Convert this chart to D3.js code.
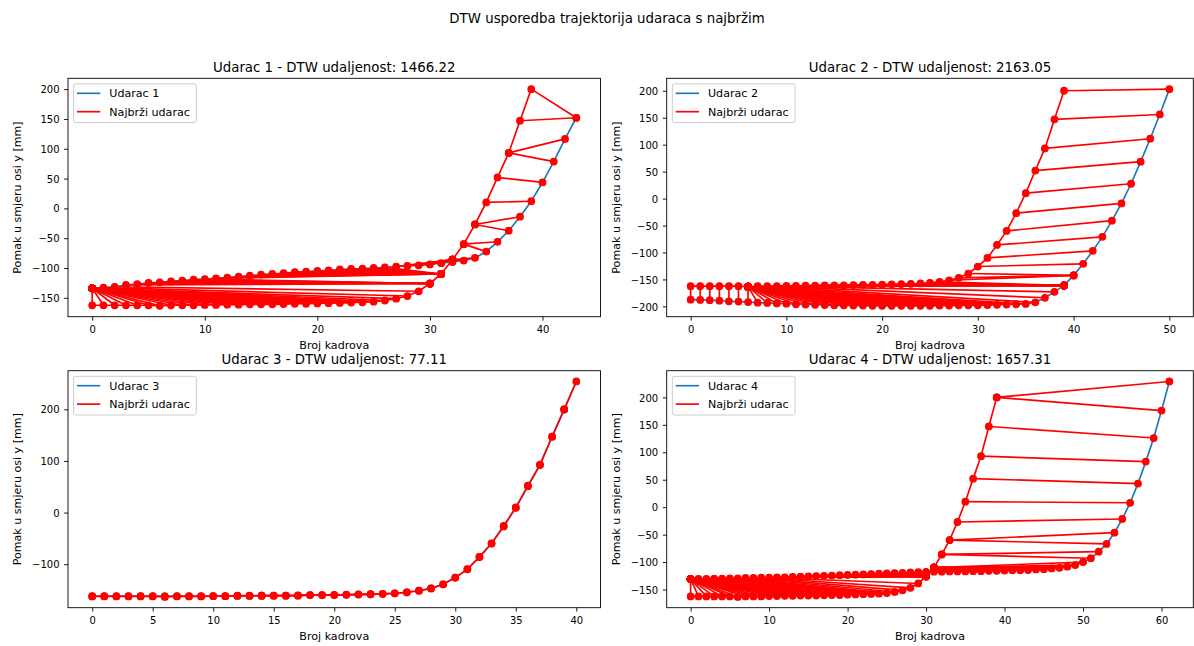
<!DOCTYPE html>
<html><head><meta charset="utf-8">
<script src="https://cdn.jsdelivr.net/npm/d3@7"></script>
<style>
body{margin:0;background:#fff}
svg{display:block}
text{font-family:"DejaVu Sans",sans-serif;fill:#000}
</style>
</head><body>
<svg id="c" width="1194" height="646"></svg>
<script>
// ---- data ----
const najbrziUdarac = [-162.5,-162.5,-162.5,-162.5,-162.5,-162.5,-163.5,-162.5,-162.5,-162.5,
  -162,-162,-161.5,-161.5,-161,-161,-161,-160.5,-160,-160,
  -159.5,-159,-158.5,-158,-157.5,-156.5,-154.5,-151.5,-147,-139,
  -126,-110,-86,-60,-27,10,52,93,147,200];
const udarac1 = [-134,-133,-131.5,-128.5,-127,-125,-124,-122.5,-121,-119.5,
  -118.5,-117.5,-116,-114.5,-113,-111,-110,-108.5,-107,-106,
  -105,-104,-102.5,-101.5,-101,-100,-99,-97.5,-96.5,-95.5,
  -94,-92,-90,-87.5,-83,-72.5,-56,-37.5,-14,12,
  43.5,78.5,116.5,152];
const udarac2 = [-187.5,-188,-188.5,-189.5,-190.5,-191,-192,-193,-193.5,-194.5,
  -195,-196,-196.5,-197,-197.5,-198,-198,-198.5,-198.5,-199,
  -199,-199,-199,-199,-199,-199,-198.5,-198.5,-198,-198,
  -198,-197.5,-197,-196.5,-196,-195.5,-192.5,-184,-173,-161,
  -142.5,-121,-97,-71,-41,-9,27.5,68.5,111,156,203];
const udarac3 = [-162,-162,-162,-162,-162,-162,-162,-162,-162,-162,-162,-162,
  -161,-161,-161,-161,-161,-161,-160,-160,-160,
  -159.5,-159,-158.5,-157.5,-156.5,-154.5,-151.5,-147,-139,
  -126,-109.5,-86,-59.5,-26,9,51,92,147,199.5,254];
const udarac4 = [-131,-130.5,-130.5,-130,-130,-129.5,-129.5,-129,-129,-128.5,
  -128.5,-128,-128,-127,-126.5,-126,-125.5,-125,-124.5,-124,
  -123.5,-123,-122.5,-122,-121,-120.5,-120,-119.5,-119,-118.5,
  -118,-117.5,-117.5,-117,-117,-117,-116.5,-116.5,-116,-116,
  -115.5,-115,-115,-114.5,-113.5,-113,-111.5,-110.5,-108.5,-105.5,
  -100,-93,-81,-67,-46.5,-21.5,8,43,83,126,176,229];
const strokeNames = ["Udarac 1","Udarac 2","Udarac 3","Udarac 4"];
const dtwDistances = ["1466.22","2163.05","77.11","1657.31"];
const xTicks = [[0,10,20,30,40],[0,10,20,30,40,50],[0,5,10,15,20,25,30,35,40],[0,10,20,30,40,50,60]];
const yTicks = [[-150,-100,-50,0,50,100,150,200],[-200,-150,-100,-50,0,50,100,150,200],[-100,0,100,200],[-150,-100,-50,0,50,100,150,200]];
const suptitle = "DTW usporedba trajektorija udaraca s najbržim";
const xLabel = "Broj kadrova";
const yLabel = "Pomak u smjeru osi y [mm]";
const fastestLabel = "Najbrži udarac";

// ---- layout ----
const boxes = [
  {l:68, t:78.3, r:600.5, b:316.7},
  {l:666.7, t:78.3, r:1193.3, b:316.7},
  {l:68, t:370.7, r:600.5, b:607.7},
  {l:666.7, t:370.7, r:1193.3, b:607.7}
];
const series = [udarac1, udarac2, udarac3, udarac4];
const BLUE = "#1f77b4", RED = "#ff0000";
const LW = 1.67, MR = 3.33, MEW = 1.1;

function dtwPath(a, b){
  const n=a.length, m=b.length;
  const D = Array.from({length:n}, ()=>new Float64Array(m).fill(Infinity));
  for(let i=0;i<n;i++) for(let j=0;j<m;j++){
    const c = Math.abs(a[i]-b[j]);
    if(i===0 && j===0){ D[i][j]=c; continue; }
    let best = Infinity;
    if(i>0 && j>0) best = Math.min(best, D[i-1][j-1]);
    if(i>0) best = Math.min(best, D[i-1][j]);
    if(j>0) best = Math.min(best, D[i][j-1]);
    D[i][j] = c + best;
  }
  const path=[[n-1,m-1]];
  let i=n-1, j=m-1;
  while(i>0 || j>0){
    if(i===0){ j--; }
    else if(j===0){ i--; }
    else {
      const d=D[i-1][j-1], u=D[i-1][j], l=D[i][j-1];
      if(d<=u && d<=l){ i--; j--; }
      else if(u<=l){ i--; }
      else { j--; }
    }
    path.push([i,j]);
  }
  return path.reverse();
}

const svg = d3.select("#c");
svg.append("text").attr("x",607).attr("y",23).attr("text-anchor","middle")
  .style("font-size","13.33px").text(suptitle);

series.forEach((s1, k)=>{
  const box = boxes[k];
  const s2 = najbrziUdarac;
  const nmax = Math.max(s1.length, s2.length) - 1;
  const xm = nmax*0.05;
  const all = s1.concat(s2);
  const ymin = d3.min(all), ymax = d3.max(all), ym = (ymax-ymin)*0.05;
  const x = d3.scaleLinear().domain([-xm, nmax+xm]).range([box.l, box.r]);
  const y = d3.scaleLinear().domain([ymin-ym, ymax+ym]).range([box.b, box.t]);
  const g = svg.append("g");
  const clipId = "clip"+k;
  g.append("clipPath").attr("id",clipId).append("rect")
    .attr("x",box.l).attr("y",box.t).attr("width",box.r-box.l).attr("height",box.b-box.t);
  const plot = g.append("g").attr("clip-path",`url(#${clipId})`);
  const line = d3.line().x((d,i)=>x(i)).y(d=>y(d));
  plot.append("path").attr("d",line(s1)).attr("fill","none").attr("stroke",BLUE).attr("stroke-width",LW);
  plot.append("path").attr("d",line(s2)).attr("fill","none").attr("stroke",RED).attr("stroke-width",LW);
  const path = dtwPath(s1, s2);
  path.forEach(([i,j])=>{
    const pg = plot.append("g");
    pg.append("line").attr("x1",x(i)).attr("y1",y(s1[i])).attr("x2",x(j)).attr("y2",y(s2[j]))
      .attr("stroke",RED).attr("stroke-width",LW);
    [[x(i),y(s1[i])],[x(j),y(s2[j])]].forEach(p=>{
      pg.append("circle").attr("cx",p[0]).attr("cy",p[1]).attr("r",MR)
        .attr("fill",RED).attr("stroke",RED).attr("stroke-width",MEW);
    });
  });

  // axes
  const xa = g.append("g").attr("transform",`translate(0,${box.b})`)
    .call(d3.axisBottom(x).tickValues(xTicks[k]).tickSize(3.9).tickPadding(3.9).tickFormat(d3.format("d")));
  const ya = g.append("g").attr("transform",`translate(${box.l},0)`)
    .call(d3.axisLeft(y).tickValues(yTicks[k]).tickSize(3.9).tickPadding(3.9)
      .tickFormat(d=> d<0 ? "\u2212"+Math.abs(d) : String(d)));
  [xa,ya].forEach(a=>{
    a.select(".domain").remove();
    a.selectAll(".tick line").attr("stroke","#000").attr("stroke-width",0.9);
    a.selectAll(".tick text").attr("fill","#000").style("font-size","10px").style("font-family","DejaVu Sans");
  });
  xa.selectAll(".tick text").attr("dy",null).attr("y",16.3).attr("dominant-baseline","alphabetic");
  ya.selectAll(".tick text").attr("dy",null).attr("y",3.6).attr("x",-8.5);

  g.append("rect").attr("x",box.l).attr("y",box.t).attr("width",box.r-box.l).attr("height",box.b-box.t)
    .attr("fill","none").attr("stroke","#000").attr("stroke-width",0.9);

  // title & labels
  g.append("text").attr("x",(box.l+box.r)/2).attr("y",box.t-6.6).attr("text-anchor","middle")
    .style("font-size","13.33px").text(`${strokeNames[k]} - DTW udaljenost: ${dtwDistances[k]}`);
  g.append("text").attr("x",(box.l+box.r)/2).attr("y",box.b+32.6).attr("text-anchor","middle")
    .style("font-size","11.1px").text(xLabel);
  const ylx = k%2===0 ? 21 : 620.4;
  g.append("text").attr("transform",`translate(${ylx},${(box.t+box.b)/2}) rotate(-90)`)
    .attr("text-anchor","middle").style("font-size","11.1px").text(yLabel);

  // legend
  const lg = g.append("g").attr("transform",`translate(${box.l},${box.t})`);
  lg.append("rect").attr("x",5.6).attr("y",5.6).attr("width",122.7).attr("height",38.7).attr("rx",2.2)
    .attr("fill","#fff").attr("fill-opacity",0.8).attr("stroke","#cccccc").attr("stroke-width",1);
  [[strokeNames[k],BLUE,15],[fastestLabel,RED,33.4]].forEach(([lab,col,cy])=>{
    lg.append("line").attr("x1",9).attr("x2",32.3).attr("y1",cy).attr("y2",cy).attr("stroke",col).attr("stroke-width",LW);
    lg.append("text").attr("x",41.3).attr("y",cy+4).style("font-size","11.1px").text(lab);
  });
});
</script>
</body></html>
